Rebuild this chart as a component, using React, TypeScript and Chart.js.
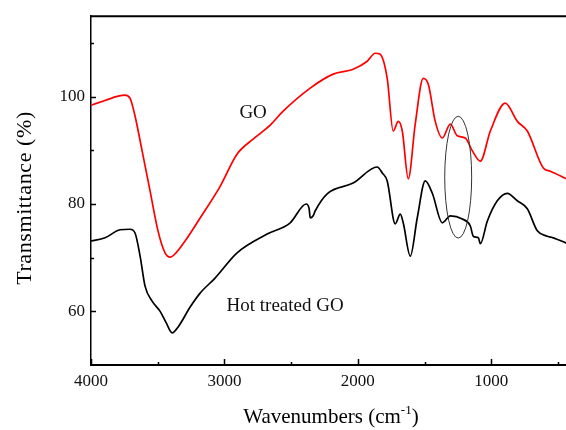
import React, { useEffect, useRef } from 'react';
import { Chart, registerables } from 'chart.js';

Chart.register(...registerables);

// GO (red) spectrum: wavenumber (cm-1) and transmittance (%)
const goWavenumbers = [4000, 3895, 3797, 3745, 3707, 3670, 3617, 3557, 3497, 3445, 3407, 3370, 3295, 3182, 3032, 2905, 2785, 2657, 2560, 2357, 2185, 2035, 1930, 1870, 1833, 1780, 1735, 1697, 1667, 1622, 1570, 1510, 1472, 1420, 1367, 1307, 1255, 1195, 1142, 1082, 1007, 895, 805, 730, 610, 557, 437];
const goValues = [98.4, 99.3, 100.1, 100.3, 99.7, 96.4, 89.9, 82.4, 74.9, 70.9, 70.1, 70.7, 73.1, 77.4, 83.3, 89.3, 92.1, 94.7, 97.3, 101.6, 104.2, 105.1, 106.6, 108.1, 107.9, 103.4, 93.6, 95.4, 93.6, 84.7, 94.9, 103.4, 102.3, 95.4, 92.3, 94.9, 92.7, 92.3, 89.9, 88.0, 93.6, 98.8, 95.4, 93.6, 86.7, 86.1, 84.7];

// Hot treated GO (black) spectrum
const hotWavenumbers = [4000, 3895, 3782, 3707, 3670, 3632, 3595, 3542, 3482, 3437, 3392, 3347, 3257, 3182, 3070, 2905, 2680, 2507, 2387, 2365, 2357, 2335, 2320, 2230, 2035, 1855, 1817, 1780, 1720, 1682, 1660, 1607, 1555, 1495, 1442, 1367, 1307, 1217, 1157, 1135, 1097, 1082, 1030, 955, 880, 805, 730, 655, 580, 535, 437];
const hotValues = [73.1, 73.7, 75.2, 75.3, 74.6, 70.3, 64.7, 61.9, 60.0, 57.9, 56.0, 57.1, 60.8, 63.4, 66.2, 70.9, 74.4, 76.5, 80.0, 79.1, 77.4, 77.8, 78.7, 81.9, 83.9, 86.9, 85.8, 84.3, 76.3, 78.1, 76.5, 70.3, 77.4, 84.3, 82.0, 76.5, 77.8, 77.2, 75.9, 74.0, 73.7, 72.6, 76.8, 80.6, 82.0, 80.6, 79.1, 75.0, 74.0, 73.7, 72.7];

const xMajorTicks = [4000, 3000, 2000, 1000];
const xMinorTicks = [3500, 2500, 1500, 500];
const yMajorTicks = [60, 80, 100];
const yMinorTicks = [70, 90, 110];

const X_MIN = 440;
const X_MAX = 4000;
const Y_MIN = 50;
const Y_MAX = 115;

const SERIF = "'Liberation Serif', 'Times New Roman', serif";

const labels = [
  { text: 'GO', x: 2785, y: 96.9, size: 19 },
  { text: 'Hot treated GO', x: 2545, y: 61.0, size: 19 },
];
const ellipse = { x: 1248, y: 85.0, rx: 101, ry: 11.35 };

const decorPlugin = {
  id: 'decor',
  afterDraw(chart: any) {
    const { ctx, chartArea } = chart;
    const xs = chart.scales.x;
    const ys = chart.scales.y;
    ctx.save();
    // top frame line
    ctx.strokeStyle = '#000';
    ctx.lineWidth = 2;
    ctx.beginPath();
    ctx.moveTo(chartArea.left - 1, chartArea.top);
    ctx.lineTo(chartArea.right, chartArea.top);
    ctx.stroke();

    // inward ticks
    ctx.lineWidth = 1.5;
    ctx.beginPath();
    for (const v of yMajorTicks) {
      const p = Math.round(ys.getPixelForValue(v)) + 0.5;
      ctx.moveTo(chartArea.left, p);
      ctx.lineTo(chartArea.left + 5, p);
    }
    for (const v of yMinorTicks) {
      const p = Math.round(ys.getPixelForValue(v)) + 0.5;
      ctx.moveTo(chartArea.left, p);
      ctx.lineTo(chartArea.left + 3, p);
    }
    for (const v of xMajorTicks) {
      const p = Math.round(xs.getPixelForValue(v)) + 0.5;
      ctx.moveTo(p, chartArea.bottom);
      ctx.lineTo(p, chartArea.bottom - 6);
    }
    for (const v of xMinorTicks) {
      const p = Math.round(xs.getPixelForValue(v)) + 0.5;
      ctx.moveTo(p, chartArea.bottom);
      ctx.lineTo(p, chartArea.bottom - 3);
    }
    ctx.stroke();

    // ellipse
    ctx.lineWidth = 1;
    ctx.strokeStyle = '#333';
    const cx = xs.getPixelForValue(ellipse.x);
    const cy = ys.getPixelForValue(ellipse.y);
    const rx = Math.abs(xs.getPixelForValue(ellipse.x + ellipse.rx) - cx);
    const ry = Math.abs(ys.getPixelForValue(ellipse.y + ellipse.ry) - cy);
    ctx.beginPath();
    ctx.ellipse(cx, cy, rx, ry, 0, 0, Math.PI * 2);
    ctx.stroke();

    // annotations
    ctx.fillStyle = '#111';
    ctx.textAlign = 'center';
    ctx.textBaseline = 'middle';
    for (const l of labels) {
      ctx.font = `${l.size}px ${SERIF}`;
      ctx.fillText(l.text, xs.getPixelForValue(l.x), ys.getPixelForValue(l.y));
    }

    // x title with superscript
    ctx.fillStyle = '#000';
    ctx.textBaseline = 'alphabetic';
    ctx.textAlign = 'left';
    const mainFont = `21px ${SERIF}`;
    const supFont = `13px ${SERIF}`;
    const part1 = 'Wavenumbers (cm';
    const sup = '-1';
    const part2 = ')';
    ctx.font = mainFont;
    const w1 = ctx.measureText(part1).width;
    const w3 = ctx.measureText(part2).width;
    ctx.font = supFont;
    const w2 = ctx.measureText(sup).width;
    const total = w1 + w2 + w3;
    const titleCx = 331;
    let tx = titleCx - total / 2;
    const baseY = 423;
    ctx.font = mainFont;
    ctx.fillText(part1, tx, baseY);
    tx += w1;
    ctx.font = supFont;
    ctx.fillText(sup, tx, baseY - 9);
    tx += w2;
    ctx.font = mainFont;
    ctx.fillText(part2, tx, baseY);

    // y title
    ctx.save();
    ctx.translate(25, 198);
    ctx.rotate(-Math.PI / 2);
    ctx.font = `22px ${SERIF}`;
    try { (ctx as any).letterSpacing = '0.6px'; } catch (e) { /* ignore */ }
    ctx.textAlign = 'center';
    ctx.textBaseline = 'middle';
    ctx.fillText('Transmittance (%)', 0, 0);
    ctx.restore();

    ctx.restore();
  },
};

export default function App() {
  const canvasRef = useRef<HTMLCanvasElement | null>(null);

  useEffect(() => {
    const canvas = canvasRef.current;
    if (!canvas) return;
    const chart = new Chart(canvas, {
      type: 'line',
      data: {
        datasets: [
          {
            label: 'GO',
            data: goWavenumbers.map((w, i) => ({ x: w, y: goValues[i] })),
            borderColor: '#ff0000',
            borderWidth: 1.7,
            pointRadius: 0,
            cubicInterpolationMode: 'monotone',
            fill: false,
          },
          {
            label: 'Hot treated GO',
            data: hotWavenumbers.map((w, i) => ({ x: w, y: hotValues[i] })),
            borderColor: '#000000',
            borderWidth: 1.7,
            pointRadius: 0,
            cubicInterpolationMode: 'monotone',
            fill: false,
          },
        ],
      },
      options: {
        responsive: false,
        animation: false,
        layout: { padding: { top: 15, left: 0, right: 0, bottom: 0 } },
        plugins: {
          legend: { display: false },
          tooltip: { enabled: false },
        },
        scales: {
          x: {
            type: 'linear',
            reverse: true,
            min: X_MIN,
            max: X_MAX,
            afterBuildTicks: (scale: any) => {
              scale.ticks = xMajorTicks.map((v) => ({ value: v }));
            },
            afterFit: (scale: any) => {
              scale.height = 65;
            },
            grid: { display: false, drawTicks: false },
            border: { display: true, color: '#000', width: 2 },
            ticks: {
              color: '#111',
              font: { family: SERIF, size: 17 },
              padding: 6,
              maxRotation: 0,
              autoSkip: false,
              callback: (v: any) => String(v),
            },
          },
          y: {
            type: 'linear',
            min: Y_MIN,
            max: Y_MAX,
            afterBuildTicks: (scale: any) => {
              scale.ticks = yMajorTicks.map((v) => ({ value: v }));
            },
            afterFit: (scale: any) => {
              scale.width = 91;
            },
            grid: { display: false, drawTicks: false },
            border: { display: true, color: '#000', width: 1.5 },
            ticks: {
              color: '#111',
              font: { family: SERIF, size: 17 },
              padding: 6,
              autoSkip: false,
              callback: (v: any) => String(v),
            },
          },
        },
      },
      plugins: [decorPlugin],
    });
    return () => chart.destroy();
  }, []);

  return (
    <canvas
      ref={canvasRef}
      width={566}
      height={430}
      style={{ position: 'absolute', left: 0, top: 0, width: 566, height: 430, background: '#fff' }}
    />
  );
}
